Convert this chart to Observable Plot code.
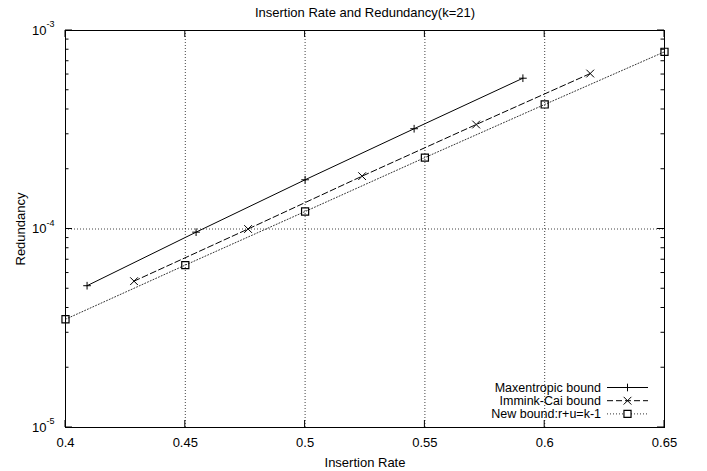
<!DOCTYPE html>
<html><head><meta charset="utf-8">
<script src="https://cdn.jsdelivr.net/npm/d3@7"></script>
<script src="https://cdn.jsdelivr.net/npm/@observablehq/plot@0.6"></script>
<style>
body{margin:0;background:#fff;}
svg{font-family:"Liberation Sans",Arial,Helvetica,sans-serif;}
</style>
</head><body><div id="chart"></div>
<script>
// ---- data ----
const title = "Insertion Rate and Redundancy(k=21)";
const xLabel = "Insertion Rate";
const yLabel = "Redundancy";
const seriesNames = ["Maxentropic bound", "Immink-Cai bound", "New bound:r+u=k-1"];

const maxRate = [0.409, 0.4545, 0.5, 0.5455, 0.5909];
const maxRed  = [5.18e-5, 9.64e-5, 1.77e-4, 3.2e-4, 5.75e-4];

const icRate = [0.4286, 0.4762, 0.5238, 0.5714, 0.619];
const icRed  = [5.46e-5, 1.0e-4, 1.846e-4, 3.36e-4, 6.07e-4];

const nbRate = [0.40, 0.45, 0.50, 0.55, 0.60, 0.65];
const nbRed  = [3.51e-5, 6.58e-5, 1.225e-4, 2.29e-4, 4.24e-4, 7.81e-4];

const xTicks = [0.4, 0.45, 0.5, 0.55, 0.6, 0.65];
const xTickLabels = ["0.4", "0.45", "0.5", "0.55", "0.6", "0.65"];
const yTicks = [1e-5, 1e-4, 1e-3];
const yTickBase = "10";
const yTickExponents = ["-5", "-4", "-3"];
const yMinorMultipliers = [2, 3, 4, 5, 6, 7, 8, 9];
const xGrid = [0.45, 0.5, 0.55, 0.6];
const yGrid = [1e-4];

// ---- build tables ----
const mk = (xs, ys, name) => xs.map((x, i) => ({x, y: ys[i], name}));
const maxData = mk(maxRate, maxRed, seriesNames[0]);
const icData = mk(icRate, icRed, seriesNames[1]);
const nbData = mk(nbRate, nbRed, seriesNames[2]);
const yTickRows = yTicks.map((v, i) => ({v, exp: yTickExponents[i]}));

const styles = [
  {dash: null, symbol: "plus", r: 2.6, sw: 1},
  {dash: "6,3", symbol: "times", r: 3.6, sw: 1},
  {dash: "1,2", symbol: "square", r: 4, sw: 1.2}
];
const FS = 13;
const LFS = 12.5;

const chart = Plot.plot({
  width: 707, height: 471,
  marginLeft: 65, marginRight: 43, marginTop: 30, marginBottom: 44,
  style: {background: "#fff", color: "#000", fontSize: FS + "px", fontFamily: '"Liberation Sans",Arial,Helvetica,sans-serif'},
  x: {domain: [0.4, 0.65]},
  y: {type: "log", domain: [1e-5, 1e-3], axis: null},
  marks: [
    Plot.gridX(xGrid, {stroke: "#000", strokeOpacity: 0.75, strokeDasharray: "1,2"}),
    Plot.gridY(yGrid, {stroke: "#000", strokeOpacity: 0.75, strokeDasharray: "1,2"}),
    Plot.line(maxData, {x: "x", y: "y", stroke: "#000", strokeWidth: 1}),
    Plot.line(icData, {x: "x", y: "y", stroke: "#000", strokeWidth: 1, strokeDasharray: styles[1].dash}),
    Plot.line(nbData, {x: "x", y: "y", stroke: "#333", strokeWidth: 1, strokeDasharray: styles[2].dash}),
    Plot.dot(maxData, {x: "x", y: "y", symbol: "plus", r: styles[0].r, stroke: "#000", strokeWidth: styles[0].sw}),
    Plot.dot(icData, {x: "x", y: "y", symbol: "times", r: styles[1].r, stroke: "#000", strokeWidth: styles[1].sw}),
    Plot.dot(nbData, {x: "x", y: "y", symbol: "square", r: styles[2].r, fill: "none", stroke: "#000", strokeWidth: styles[2].sw}),
    Plot.frame({stroke: "#000", strokeWidth: 1}),
    Plot.axisX(xTicks, {tickSize: 0, tickPadding: 10, tickFormat: (d, i) => xTickLabels[i], label: null, fontSize: FS}),
    // y tick labels: "10" plus superscript exponent
    Plot.text(yTickRows, {y: "v", frameAnchor: "left", text: () => yTickBase, dx: -19, textAnchor: "end", lineAnchor: "middle", fontSize: FS}),
    Plot.text(yTickRows, {y: "v", frameAnchor: "left", text: "exp", dx: -19, dy: -6, textAnchor: "start", lineAnchor: "middle", fontSize: 9}),
    Plot.text([xLabel], {frameAnchor: "bottom", dy: 35, textAnchor: "middle", lineAnchor: "middle", fontSize: FS}),
    Plot.text([yLabel], {frameAnchor: "left", dx: -45, rotate: -90, textAnchor: "middle", lineAnchor: "middle", fontSize: FS}),
    Plot.text([title], {frameAnchor: "top", dy: -18, textAnchor: "middle", lineAnchor: "middle", fontSize: FS})
  ]
});
document.getElementById("chart").appendChild(chart);

const svg = d3.select(chart);

// ---- inward ticks (gnuplot style), via the chart scales ----
const sx = chart.scale("x"), sy = chart.scale("y");
const [x0, x1] = sx.range, [y0, y1] = sy.range; // y0 bottom, y1 top
const tg = svg.append("g").attr("stroke", "#000").attr("stroke-width", 1);
const majorLen = 7, minorLen = 3.5;
xTicks.forEach(v => {
  const px = sx.apply(v);
  tg.append("line").attr("x1", px).attr("x2", px).attr("y1", y0).attr("y2", y0 - majorLen);
  tg.append("line").attr("x1", px).attr("x2", px).attr("y1", y1).attr("y2", y1 + majorLen);
});
yTicks.forEach(v => {
  const py = sy.apply(v);
  tg.append("line").attr("x1", x0).attr("x2", x0 + majorLen).attr("y1", py).attr("y2", py);
  tg.append("line").attr("x1", x1).attr("x2", x1 - majorLen).attr("y1", py).attr("y2", py);
});
yTicks.slice(0, -1).forEach(dec => yMinorMultipliers.forEach(m => {
  const py = sy.apply(dec * m);
  tg.append("line").attr("x1", x0).attr("x2", x0 + minorLen).attr("y1", py).attr("y2", py);
  tg.append("line").attr("x1", x1).attr("x2", x1 - minorLen).attr("y1", py).attr("y2", py);
}));

// ---- legend (inside, bottom right) ----
const lg = svg.append("g").attr("font-size", LFS);
const symbolMap = {plus: d3.symbolPlus, times: d3.symbolTimes, square: d3.symbolSquare};
const legendTextX = x1 - 63, sampleX1 = x1 - 57, sampleX2 = x1 - 16, rowH = 13.2;
seriesNames.forEach((name, i) => {
  const yy = y0 - 39.5 + i * rowH;
  lg.append("text").attr("x", legendTextX).attr("y", yy).attr("dy", "0.35em")
    .attr("text-anchor", "end").attr("fill", "#000").text(name);
  lg.append("line").attr("x1", sampleX1).attr("x2", sampleX2).attr("y1", yy).attr("y2", yy)
    .attr("stroke", i === 2 ? "#333" : "#000").attr("stroke-dasharray", styles[i].dash);
  const size = Math.PI * styles[i].r * styles[i].r;
  lg.append("path").attr("d", d3.symbol(symbolMap[styles[i].symbol], size)())
    .attr("transform", `translate(${(sampleX1 + sampleX2) / 2},${yy})`)
    .attr("fill", i === 2 ? "#fff" : "none").attr("stroke", "#000").attr("stroke-width", styles[i].sw);
});
</script>
</body></html>
